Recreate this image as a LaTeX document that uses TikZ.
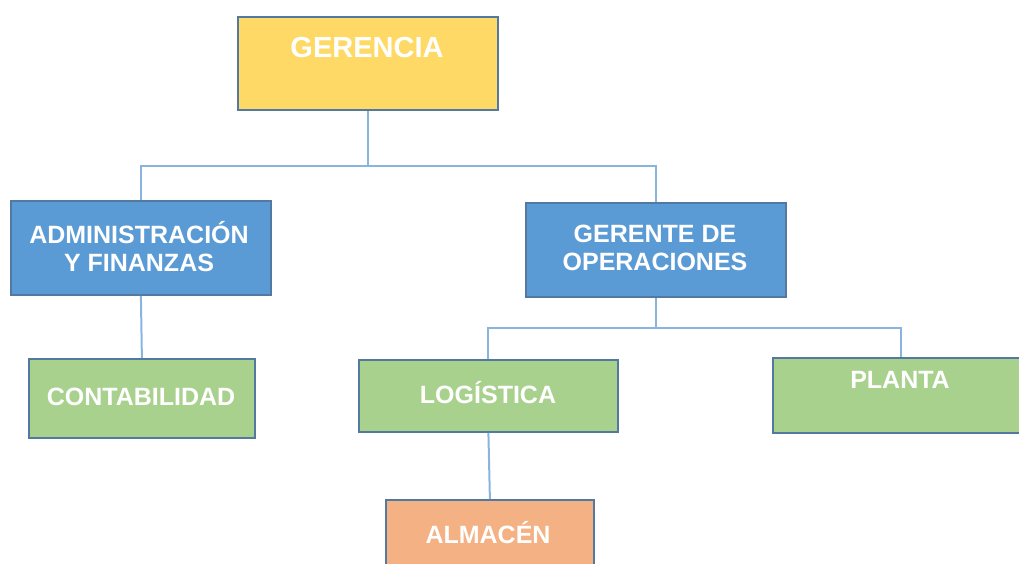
\documentclass[tikz,border=0pt]{standalone}
\usepackage{fontspec}
\setmainfont{Liberation Sans}
\definecolor{ygold}{HTML}{FFD966}
\definecolor{mblue}{HTML}{5B9BD5}
\definecolor{mgreen}{HTML}{A9D18E}
\definecolor{morange}{HTML}{F4B183}
\definecolor{bordc}{HTML}{5479A0}
\definecolor{linec}{HTML}{88B5E0}
\begin{document}
\begin{tikzpicture}[x=1pt,y=-1pt,
  box/.style={draw=bordc, line width=1.8pt, rectangle, anchor=north west, inner sep=0pt},
  lbl/.style={text=white, font=\fontsize{25}{28}\selectfont\bfseries, align=center, inner sep=0pt},
  conn/.style={draw=linec, line width=2pt}]
\useasboundingbox (0,0) rectangle (1019,563);
\clip (0,0) rectangle (1019,563);
% boxes
\node[box, fill=ygold, minimum width=260pt, minimum height=93pt] (ger) at (237,16) {};
\node[box, fill=mblue, minimum width=260pt, minimum height=94pt] (adm) at (10,200) {};
\node[box, fill=mblue, minimum width=260pt, minimum height=94pt] (gop) at (525,202) {};
\node[box, fill=mgreen, minimum width=226pt, minimum height=79pt] (con) at (28,358) {};
\node[box, fill=mgreen, minimum width=259pt, minimum height=72pt] (log) at (358,359) {};
\node[box, fill=mgreen, minimum width=256pt, minimum height=75pt] (pla) at (772,357) {};
\node[box, fill=morange, minimum width=208pt, minimum height=80pt] (alm) at (385,499) {};
% texts
\node[lbl, font=\fontsize{29}{32}\selectfont\bfseries] (tger) at (367,48) {GERENCIA};
\node[lbl] (tadm) at (139,247) {ADMINISTRACIÓN\\Y FINANZAS};
\node[lbl] (tgop) at (655,248) {GERENTE DE\\OPERACIONES};
\node[lbl] (tcon) at (141,397) {CONTABILIDAD};
\node[lbl] (tlog) at (488,393) {LOGÍSTICA};
\node[lbl] (tpla) at (900,380) {PLANTA};
\node[lbl] (talm) at (488,533) {ALMACÉN};
% connectors
\draw[conn] (ger.south) -- ++(0,55) coordinate (b1);
\draw[conn] (adm.north) |- (b1) -| (gop.north);
\draw[conn] (adm.south) -- (con.north);
\draw[conn] (gop.south) -- ++(0,30) coordinate (b2);
\draw[conn] (log.north) |- (b2) -| (pla.north);
\draw[conn] (log.south) -- (alm.north);
\end{tikzpicture}
\end{document}
